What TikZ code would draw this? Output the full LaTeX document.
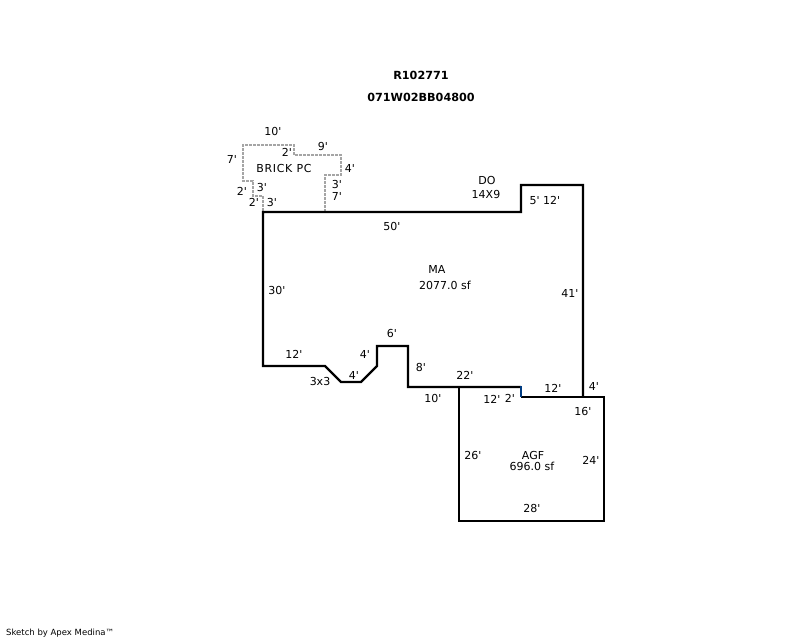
\documentclass[tikz,border=0pt]{standalone}
\usepackage{fontspec}
\setmainfont[Ligatures=TeXOff]{DejaVu Sans}
\usepackage{xcolor}
\definecolor{brickgray}{RGB}{165,165,165}
\definecolor{stepblue}{RGB}{0,60,130}
\tikzset{
  wall/.style={black, line width=2.3pt, line join=miter},
  brick/.style={brickgray, line width=2.5pt, dash pattern=on 3pt off 1pt},
  dim/.style={inner sep=0pt, font=\fontsize{11}{11}\selectfont},
  title/.style={inner sep=0pt, font=\fontsize{11.2}{11}\selectfont\bfseries}
}
\begin{document}
\begin{tikzpicture}[x=1pt,y=-1pt]
\useasboundingbox (0,0) rectangle (800,640);

\draw [brick] (325,212) -- (325,175) -- (341,175) -- (341,155) -- (294,155) -- (294,145) -- (243,145) -- (243,181) -- (253,181) -- (253,196) -- (263,196) -- (263,212);

\draw [wall] (521,387) -- (408,387) -- (408,346) -- (377,346) -- (377,366) -- (361,382) -- (341,382) -- (325,366) -- (263,366) -- (263,212) -- (521,212) -- (521,185) -- (583,185) -- (583,397);
\draw [wall] (459,387) -- (459,521) -- (604,521) -- (604,397) -- (521,397);
\draw [stepblue, line width=2.3pt] (521,386) -- (521,397);

\node [title] (parcel) at (421,75) {R102771};
\node [title] (account) at (421,97) {071W02BB04800};

\node [dim] (brickTop) at (273,131) {10'};
\node [dim] (brickNine) at (323,146) {9'};
\node [dim] (brickStep) at (287,152) {2'};
\node [dim] (brickLeft) at (232,159) {7'};
\node [dim, font=\fontsize{11}{11}\selectfont\addfontfeature{LetterSpace=6}] (brickName) at (284,168) {BRICK PC};
\node [dim] (brickFour) at (350,168) {4'};
\node [dim] (brickThreeR) at (337,184) {3'};
\node [dim] (brickSeven) at (337,196) {7'};
\node [dim] (brickThreeA) at (262,187) {3'};
\node [dim] (brickTwoA) at (242,191) {2'};
\node [dim] (brickTwoB) at (254,202) {2'};
\node [dim] (brickThreeB) at (272,202) {3'};

\node [dim] (doName) at (487,180) {DO};
\node [dim] (doSize) at (486,194) {14X9};
\node [dim] (doSides) at (545,200) {5' 12'};

\node [dim] (maTop) at (392,226) {50'};
\node [dim] (maName) at (437,269) {MA};
\node [dim] (maArea) at (445,285) {2077.0 sf};
\node [dim] (maLeft) at (277,290) {30'};
\node [dim] (maRight) at (570,293) {41'};
\node [dim] (maLow) at (294,354) {12'};
\node [dim] (bayUp) at (365,354) {4'};
\node [dim] (bayTop) at (392,333) {6'};
\node [dim] (bayLow) at (354,375) {4'};
\node [dim] (baySize) at (320,381) {3x3};
\node [dim] (bayRight) at (421,367) {8'};
\node [dim] (maStep) at (465,375) {22'};
\node [dim] (maTen) at (433,398) {10'};

\node [dim] (agfTopA) at (492,399) {12'};
\node [dim] (agfJog) at (510,398) {2'};
\node [dim] (agfTopB) at (553,388) {12'};
\node [dim] (agfFour) at (594,386) {4'};
\node [dim] (agfSixteen) at (583,411) {16'};
\node [dim] (agfLeft) at (473,455) {26'};
\node [dim] (agfName) at (533,455) {AGF};
\node [dim] (agfArea) at (532,466) {696.0 sf};
\node [dim] (agfRight) at (591,460) {24'};
\node [dim] (agfBottom) at (532,508) {28'};

\node [inner sep=0pt, anchor=west, font=\fontsize{8.5}{8}\selectfont] (credit) at (6,633) {Sketch by Apex Medina™};
\end{tikzpicture}
\end{document}
